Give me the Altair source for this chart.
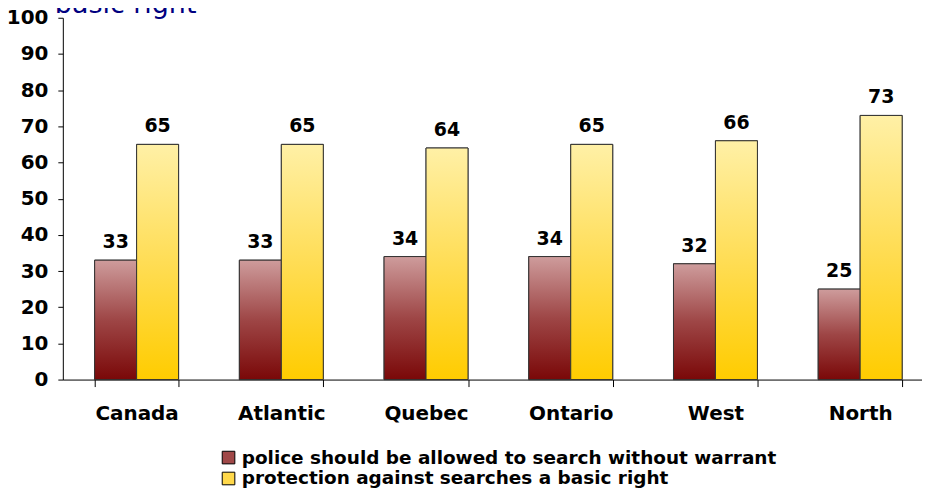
import altair as alt
import pandas as pd

regions = ["Canada", "Atlantic", "Quebec", "Ontario", "West", "North"]
series = ["police should be allowed to search without warrant",
          "protection against searches a basic right"]
police = [33, 33, 34, 34, 32, 25]
protection = [65, 65, 64, 65, 66, 73]
title_text = "basic right"

rows = []
for i, r in enumerate(regions):
    rows.append({"region": r, "series": series[0], "value": police[i]})
    rows.append({"region": r, "series": series[1], "value": protection[i]})
df = pd.DataFrame(rows)

FONT = "DejaVu Sans"

x = alt.X("region:N", sort=regions, title=None,
          scale=alt.Scale(paddingInner=0.42, paddingOuter=0.22, range=[0, 874]),
          axis=alt.Axis(labelAngle=0, labelFont=FONT, labelFontSize=20, labelFontWeight="bold",
                        labelColor="black", labelPadding=17, tickBand="extent", tickSize=7,
                        tickColor="black", domainColor="black", ticks=True))
y = alt.Y("value:Q", title=None,
          scale=alt.Scale(domain=[0, 100], nice=False),
          axis=alt.Axis(values=list(range(0, 101, 10)), labelFont=FONT, labelFontSize=20,
                        labelFontWeight="bold", labelColor="black", labelPadding=10,
                        tickSize=5, tickColor="black", domainColor="black", grid=False))
xo = alt.XOffset("series:N", sort=series, scale=alt.Scale(domain=series, paddingInner=0, paddingOuter=0))

base = alt.Chart(df)

solid = base.mark_bar(stroke="#333333", strokeWidth=1).encode(
    x=x, y=y, xOffset=xo,
    color=alt.Color("series:N", sort=series,
                    scale=alt.Scale(domain=series, range=["#A04848", "#FFD84A"]),
                    legend=alt.Legend(title=None, orient="none", legendX=157, legendY=432,
                                      direction="vertical", symbolType="square", symbolSize=160,
                                      symbolStrokeColor="black", symbolStrokeWidth=1,
                                      labelFont=FONT, labelFontSize=18.5, labelFontWeight="bold",
                                      labelColor="black", rowPadding=2, labelLimit=800,
                                      labelOffset=4)),
)

red_grad = alt.LinearGradient(gradient="linear", x1=0, x2=0, y1=1, y2=0, stops=[
    alt.GradientStop(color="#7A0808", offset=0),
    alt.GradientStop(color="#9E4646", offset=0.5),
    alt.GradientStop(color="#CE9C9C", offset=1)])
yel_grad = alt.LinearGradient(gradient="linear", x1=0, x2=0, y1=1, y2=0, stops=[
    alt.GradientStop(color="#FFCC00", offset=0),
    alt.GradientStop(color="#FFDD55", offset=0.5),
    alt.GradientStop(color="#FFF0A6", offset=1)])

red = base.transform_filter(alt.datum.series == series[0]).mark_bar(
    fill=red_grad, stroke="#333333", strokeWidth=1).encode(x=x, y=y, xOffset=xo)
yel = base.transform_filter(alt.datum.series == series[1]).mark_bar(
    fill=yel_grad, stroke="#333333", strokeWidth=1).encode(x=x, y=y, xOffset=xo)

labels = base.mark_text(baseline="alphabetic", dy=-12, font=FONT, fontSize=19,
                        fontWeight="bold", color="black").encode(
    x=x, y=y, xOffset=xo, text="value:Q")

title = alt.Chart(pd.DataFrame({"t": [title_text]})).mark_text(
    align="left", baseline="alphabetic", font=FONT, fontSize=27, color="#000080").encode(
    x=alt.value(-8), y=alt.value(-5), text="t:N")

chart = alt.layer(solid, red, yel, labels, title).properties(
    width=862, height=363,
    autosize=alt.AutoSizeParams(type="none"),
    padding={"left": 55, "top": 9, "right": 0, "bottom": 112},
).configure_view(stroke=None)

chart.save("out.html", embed_options={"renderer": "svg", "actions": False})
